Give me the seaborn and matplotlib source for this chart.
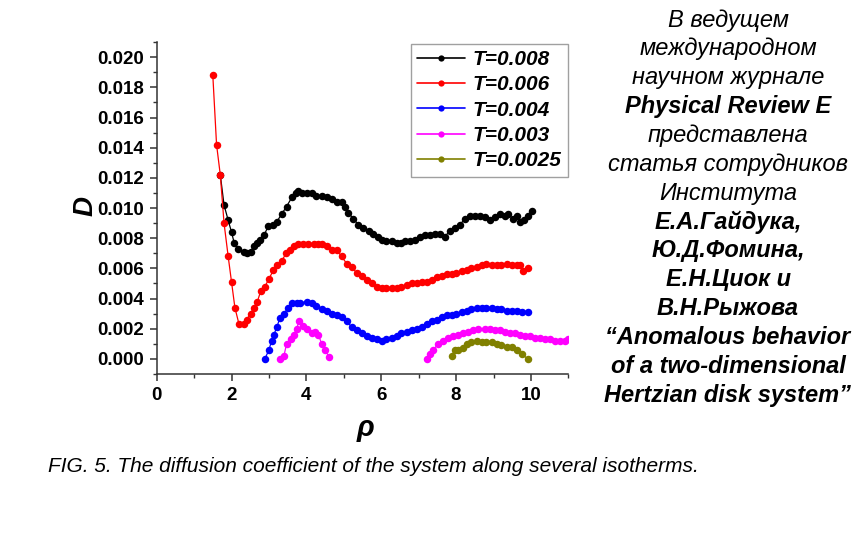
import numpy as np
import pandas as pd
import matplotlib.pyplot as plt
import seaborn as sns
from matplotlib.lines import Line2D
from matplotlib.ticker import MultipleLocator

# T = 0.008
rho_008 = [1.70, 1.80, 1.91, 2.00, 2.07, 2.18, 2.32, 2.40, 2.51, 2.60, 2.67, 2.76, 2.87, 2.98,
           3.10, 3.21, 3.34, 3.47, 3.61, 3.72, 3.78, 3.87, 4.01, 4.14, 4.27, 4.41, 4.54, 4.68,
           4.81, 4.94, 5.03, 5.12, 5.25, 5.39, 5.52, 5.66, 5.79, 5.92, 6.01, 6.14, 6.28, 6.41,
           6.54, 6.63, 6.77, 6.90, 7.03, 7.17, 7.30, 7.44, 7.57, 7.70, 7.83, 7.97, 8.10, 8.24,
           8.37, 8.50, 8.64, 8.77, 8.90, 9.04, 9.17, 9.30, 9.39, 9.51, 9.62, 9.71, 9.82, 9.91, 10.02]
d_008 = [0.0122, 0.0102, 0.0092, 0.0084, 0.0077, 0.0073, 0.0071, 0.0070, 0.0071, 0.0075, 0.0077,
         0.0079, 0.0082, 0.0088, 0.0089, 0.0091, 0.0096, 0.0101, 0.0107, 0.0110, 0.0111, 0.0110,
         0.0110, 0.0110, 0.0108, 0.0108, 0.0107, 0.0106, 0.0104, 0.0104, 0.0101, 0.0097, 0.0093,
         0.0089, 0.0087, 0.0085, 0.0083, 0.0081, 0.0079, 0.0078, 0.0078, 0.0077, 0.0077, 0.0078,
         0.0078, 0.0079, 0.0081, 0.0082, 0.0082, 0.0083, 0.0083, 0.0081, 0.0085, 0.0087, 0.0089,
         0.0093, 0.0095, 0.0095, 0.0095, 0.0094, 0.0092, 0.0094, 0.0096, 0.0095, 0.0096, 0.0093,
         0.0095, 0.0091, 0.0092, 0.0095, 0.0098]

# T = 0.006
rho_006 = [1.50, 1.60, 1.70, 1.80, 1.91, 2.00, 2.09, 2.20, 2.32, 2.40, 2.51, 2.60, 2.69, 2.78,
           2.89, 3.00, 3.12, 3.22, 3.34, 3.46, 3.56, 3.68, 3.78, 3.92, 4.05, 4.19, 4.32, 4.43,
           4.54, 4.68, 4.81, 4.94, 5.08, 5.21, 5.34, 5.48, 5.61, 5.74, 5.88, 6.01, 6.14, 6.28,
           6.41, 6.54, 6.68, 6.81, 6.95, 7.08, 7.21, 7.35, 7.48, 7.61, 7.75, 7.88, 8.01, 8.15,
           8.28, 8.41, 8.55, 8.68, 8.81, 8.95, 9.08, 9.21, 9.35, 9.48, 9.62, 9.72, 9.78, 9.91]
d_006 = [0.0188, 0.0142, 0.0122, 0.0090, 0.0068, 0.0051, 0.0034, 0.0023, 0.0023, 0.0026, 0.0030,
         0.0034, 0.0038, 0.0045, 0.0048, 0.0053, 0.0059, 0.0062, 0.0065, 0.0070, 0.0072, 0.0075,
         0.0076, 0.0076, 0.0076, 0.0076, 0.0076, 0.0076, 0.0075, 0.0072, 0.0072, 0.0068, 0.0063,
         0.0061, 0.0057, 0.0055, 0.0052, 0.0050, 0.0048, 0.0047, 0.0047, 0.0047, 0.0047, 0.0048,
         0.0049, 0.0050, 0.0050, 0.0051, 0.0051, 0.0052, 0.0054, 0.0055, 0.0056, 0.0056, 0.0057,
         0.0058, 0.0059, 0.0060, 0.0061, 0.0062, 0.0063, 0.0062, 0.0062, 0.0062, 0.0063, 0.0062,
         0.0062, 0.0062, 0.0058, 0.0060]

# T = 0.004
rho_004 = [2.89, 3.00, 3.07, 3.13, 3.21, 3.29, 3.40, 3.52, 3.61, 3.74, 3.83, 4.01, 4.14, 4.27,
           4.41, 4.54, 4.68, 4.81, 4.94, 5.08, 5.21, 5.34, 5.48, 5.61, 5.74, 5.88, 6.01, 6.14,
           6.28, 6.41, 6.54, 6.68, 6.81, 6.95, 7.08, 7.21, 7.35, 7.48, 7.61, 7.75, 7.88, 8.01,
           8.15, 8.28, 8.41, 8.55, 8.68, 8.81, 8.95, 9.08, 9.21, 9.35, 9.48, 9.62, 9.75, 9.91]
d_004 = [0.0000, 0.0006, 0.0012, 0.0016, 0.0021, 0.0027, 0.0030, 0.0034, 0.0037, 0.0037, 0.0037,
         0.0038, 0.0037, 0.0035, 0.0033, 0.0032, 0.0030, 0.0029, 0.0028, 0.0025, 0.0021, 0.0019,
         0.0017, 0.0015, 0.0014, 0.0013, 0.0012, 0.0013, 0.0014, 0.0015, 0.0017, 0.0018, 0.0019,
         0.0020, 0.0021, 0.0023, 0.0025, 0.0026, 0.0028, 0.0029, 0.0029, 0.0030, 0.0031, 0.0032,
         0.0033, 0.0034, 0.0034, 0.0034, 0.0034, 0.0033, 0.0033, 0.0032, 0.0032, 0.0032, 0.0031,
         0.0031]

# T = 0.003 (two separate branches)
rho_003a = [3.29, 3.40, 3.47, 3.58, 3.67, 3.74, 3.80, 3.90, 4.01, 4.14, 4.23, 4.32, 4.41, 4.50, 4.61]
d_003a = [0.0000, 0.0002, 0.0010, 0.0013, 0.0016, 0.0020, 0.0025, 0.0022, 0.0020, 0.0017, 0.0018,
          0.0016, 0.0010, 0.0006, 0.0001]
rho_003b = [7.21, 7.30, 7.39, 7.52, 7.66, 7.79, 7.92, 8.06, 8.19, 8.32, 8.46, 8.59, 8.77, 8.90,
            9.04, 9.17, 9.30, 9.44, 9.57, 9.71, 9.84, 9.97, 10.11, 10.24, 10.37, 10.51, 10.64,
            10.77, 10.91, 11.0]
d_003b = [0.0000, 0.0003, 0.0006, 0.0010, 0.0012, 0.0014, 0.0015, 0.0016, 0.0017, 0.0018, 0.0019,
          0.0020, 0.0020, 0.0020, 0.0019, 0.0019, 0.0018, 0.0017, 0.0017, 0.0016, 0.0015, 0.0015,
          0.0014, 0.0014, 0.0013, 0.0013, 0.0012, 0.0012, 0.0012, 0.0013]

# T = 0.0025
rho_0025 = [7.88, 7.97, 8.06, 8.19, 8.30, 8.41, 8.55, 8.68, 8.81, 8.95, 9.08, 9.21, 9.35, 9.48,
            9.62, 9.75, 9.93]
d_0025 = [0.0002, 0.0006, 0.0006, 0.0007, 0.0010, 0.0011, 0.0012, 0.0011, 0.0011, 0.0011, 0.0010,
          0.0009, 0.0008, 0.0008, 0.0006, 0.0003, 0.0000]

labels = ["T=0.008", "T=0.006", "T=0.004", "T=0.003", "T=0.0025"]
colors = ["#000000", "#ff0000", "#0000ff", "#ff00ff", "#808000"]

sns.set_style("ticks")
plt.rcParams['font.family'] = ['Liberation Sans', 'DejaVu Sans']
plt.rcParams['text.color'] = 'black'
plt.rcParams['xtick.labelcolor'] = 'black'
plt.rcParams['ytick.labelcolor'] = 'black'

fig = plt.figure(figsize=(8.67, 5.38), dpi=100)
ax = fig.add_axes([0.1807, 0.3048, 0.4749, 0.617])

series = [
    (rho_008, d_008, 0),
    (rho_006, d_006, 1),
    (rho_004, d_004, 2),
    (rho_003a, d_003a, 3),
    (rho_003b, d_003b, 3),
    (rho_0025, d_0025, 4),
]
for xs, ys, i in series:
    df = pd.DataFrame({"rho": xs, "D": ys})
    sns.lineplot(data=df, x="rho", y="D", ax=ax, color=colors[i], sort=False,
                 marker="o", markersize=5.4, markeredgewidth=0, linewidth=0.9)

ax.set_xlim(0, 11)
ax.set_ylim(-0.001, 0.021)
ax.xaxis.set_minor_locator(MultipleLocator(1))
ax.yaxis.set_minor_locator(MultipleLocator(0.001))
ax.set_yticks(np.arange(0, 0.0201, 0.002))
ax.set_yticklabels([f"{v:.3f}" for v in np.arange(0, 0.0201, 0.002)])
ax.set_xticks([0, 2, 4, 6, 8, 10])
ax.set_xticklabels(["0", "2", "4", "6", "8", "10"])

for s in ["left", "bottom"]:
    ax.spines[s].set_linewidth(1.1)
    ax.spines[s].set_color("#333333")
sns.despine(ax=ax)
ax.tick_params(which="major", direction="out", length=5, width=1.1, color="#333333",
               labelsize=13.5, pad=4, labelcolor="black")
ax.tick_params(which="minor", direction="out", length=3, width=1.0, color="#333333")
for lab in ax.get_xticklabels() + ax.get_yticklabels():
    lab.set_fontweight("bold")

ax.set_xlabel("")
ax.set_ylabel("")
fig.text(0.099, 0.618, "D", rotation=90, ha="center", va="center",
         fontsize=20, fontweight="bold", fontstyle="italic")
fig.text(0.421, 0.205, "ρ", ha="center", va="center",
         fontsize=21, fontstyle="italic", fontweight="bold")

handles = [Line2D([0], [0], color=c, marker="o", markersize=4.5, markeredgewidth=0, linewidth=1.2)
           for c in colors]
leg = ax.legend(handles, labels, loc="upper left", bbox_to_anchor=(411 / 867, 1 - 44 / 538),
                bbox_transform=fig.transFigure, frameon=True, fancybox=False,
                handlelength=2.3, handletextpad=0.35, labelspacing=0.3, borderpad=0.3,
                borderaxespad=0, prop={"weight": "bold", "style": "italic", "size": 15})
leg.get_frame().set_edgecolor("#888888")
leg.get_frame().set_linewidth(1.0)

side_lines = [
    ("В ведущем", "normal"),
    ("международном", "normal"),
    ("научном журнале", "normal"),
    ("Physical Review E", "bold"),
    ("представлена", "normal"),
    ("статья сотрудников", "normal"),
    ("Института", "normal"),
    ("Е.А.Гайдука,", "bold"),
    ("Ю.Д.Фомина,", "bold"),
    ("Е.Н.Циок и", "bold"),
    ("В.Н.Рыжова", "bold"),
    ("“Anomalous behavior", "bold"),
    ("of a two-dimensional", "bold"),
    ("Hertzian disk system”", "bold"),
]
for k, (txt, w) in enumerate(side_lines):
    y = 20 + k * 28.85
    fig.text(728 / 867, 1 - y / 538, txt, ha="center", va="center",
             fontsize=17, fontstyle="italic", fontweight=w)

fig.text(48 / 867, 1 - 466 / 538,
         "FIG. 5. The diffusion coefficient of the system along several isotherms.",
         ha="left", va="center", fontsize=15, fontstyle="italic")

fig.savefig("out.png", dpi=100)
